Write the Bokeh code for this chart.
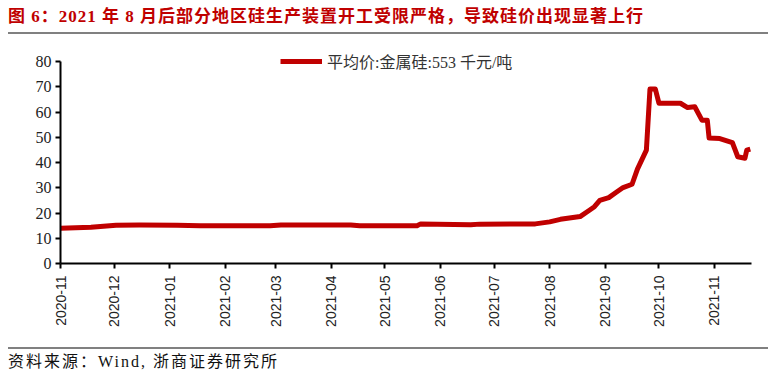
import pandas as pd
from bokeh.plotting import figure
from bokeh.layouts import column
from bokeh.models import (Range1d, FixedTicker, DatetimeTickFormatter, Legend, LegendItem, Div)
from bokeh.embed import file_html
from bokeh.resources import INLINE

# ---- data ----
dates = ["2020-11-01", "2020-11-18", "2020-12-02", "2020-12-15", "2021-01-05", "2021-01-18",
         "2021-02-26", "2021-03-04", "2021-04-12", "2021-04-17", "2021-05-19", "2021-05-21",
         "2021-06-18", "2021-06-23", "2021-07-24", "2021-08-01", "2021-08-07", "2021-08-18",
         "2021-08-23", "2021-08-26", "2021-08-29", "2021-09-03", "2021-09-07", "2021-09-11",
         "2021-09-16", "2021-09-19", "2021-09-24", "2021-09-26", "2021-09-29", "2021-10-01",
         "2021-10-13", "2021-10-17", "2021-10-21", "2021-10-25", "2021-10-28", "2021-10-29",
         "2021-11-04", "2021-11-11", "2021-11-14", "2021-11-18", "2021-11-19", "2021-11-21"]
price = [14.0, 14.4, 15.2, 15.3, 15.2, 15.0,
         15.0, 15.3, 15.3, 15.0, 15.0, 15.7,
         15.4, 15.6, 15.7, 16.5, 17.5, 18.6,
         21.0, 22.5, 25.0, 26.1, 28.1, 30.1,
         31.4, 37.4, 44.9, 69.1, 69.1, 63.5,
         63.5, 61.8, 62.1, 56.8, 56.8, 49.7,
         49.5, 47.9, 42.3, 41.7, 44.9, 45.3]
month_ticks = ["2020-11", "2020-12", "2021-01", "2021-02", "2021-03", "2021-04", "2021-05",
               "2021-06", "2021-07", "2021-08", "2021-09", "2021-10", "2021-11"]
y_ticks = [0, 10, 20, 30, 40, 50, 60, 70, 80]
series_name = "平均价:金属硅:553 千元/吨"
title_text = "图 6：2021 年 8 月后部分地区硅生产装置开工受限严格，导致硅价出现显著上行"
source_text = "资料来源：Wind, 浙商证券研究所"

x = pd.to_datetime(dates)
tick_ms = [pd.Timestamp(m + "-01").timestamp() * 1000 for m in month_ticks]
x_start = pd.Timestamp("2020-11-01")
x_end = pd.Timestamp("2021-11-21 16:00")

SERIF = "'Liberation Serif', 'Noto Sans CJK SC'"

p = figure(width=776, height=310, x_axis_type="datetime",
           x_range=Range1d(x_start, x_end), y_range=Range1d(0, 84),
           output_backend="svg", toolbar_location=None, title=None,
           min_border_left=60, min_border_right=25, min_border_top=15, min_border_bottom=83)
p.outline_line_color = None
p.grid.visible = False
p.background_fill_color = "white"
p.border_fill_color = "white"

r = p.line(x, price, line_color="#C00000", line_width=5, line_join="round")

# axes
p.xaxis.ticker = FixedTicker(ticks=tick_ms)
fmt = "%Y-%m"
p.xaxis.formatter = DatetimeTickFormatter(milliseconds=fmt, seconds=fmt, minsec=fmt, minutes=fmt,
                                          hourmin=fmt, hours=fmt, days=fmt, months=fmt, years=fmt)
p.xaxis.major_label_orientation = 3.14159265 / 2
p.xaxis.major_label_text_font = "Liberation Sans"
p.xaxis.major_label_text_font_size = "14px"
p.xaxis.major_label_standoff = 7
p.yaxis.ticker = FixedTicker(ticks=y_ticks)
p.yaxis.bounds = (0, 80)
p.yaxis.major_label_text_font = "Liberation Serif"
p.yaxis.major_label_text_font_size = "16px"
p.yaxis.major_label_standoff = 4
for ax in (p.xaxis, p.yaxis):
    ax.axis_line_width = 2
    ax.axis_line_color = "black"
    ax.major_tick_line_width = 2
    ax.major_tick_line_color = "black"
    ax.major_tick_in = 0
    ax.major_tick_out = 5
    ax.minor_tick_line_color = None
    ax.major_label_text_color = "#222222"

# legend
legend = Legend(items=[LegendItem(label=series_name, renderers=[r])],
                location=(220, 190), glyph_width=42, glyph_height=14, label_height=14,
                padding=0, margin=0, spacing=0, label_standoff=5,
                border_line_alpha=0, background_fill_alpha=0,
                label_text_font=SERIF, label_text_font_size="16px",
                label_text_color="#333333")
p.add_layout(legend, "center")

CSSFONT = "'Liberation Serif','Noto Sans CJK SC',serif"
title_div = Div(width=776, height=36, margin=0, text=(
    f'<div style="width:760px;margin-left:8px;height:34px;border-bottom:2px solid #808080;'
    f'font-family:{CSSFONT};font-weight:bold;font-size:17px;color:#C00000;letter-spacing:1px;'
    f'line-height:34px;white-space:nowrap;">{title_text}</div>'))
foot_div = Div(width=776, height=32, margin=0, text=(
    f'<div style="width:760px;margin-left:8px;margin-top:1px;border-top:2px solid #808080;'
    f'font-family:{CSSFONT};font-size:16px;color:#111111;letter-spacing:2px;'
    f'line-height:26px;white-space:nowrap;">{source_text}</div>'))

layout = column(title_div, p, foot_div, spacing=0)
open("out.html", "w").write(file_html(layout, INLINE))
